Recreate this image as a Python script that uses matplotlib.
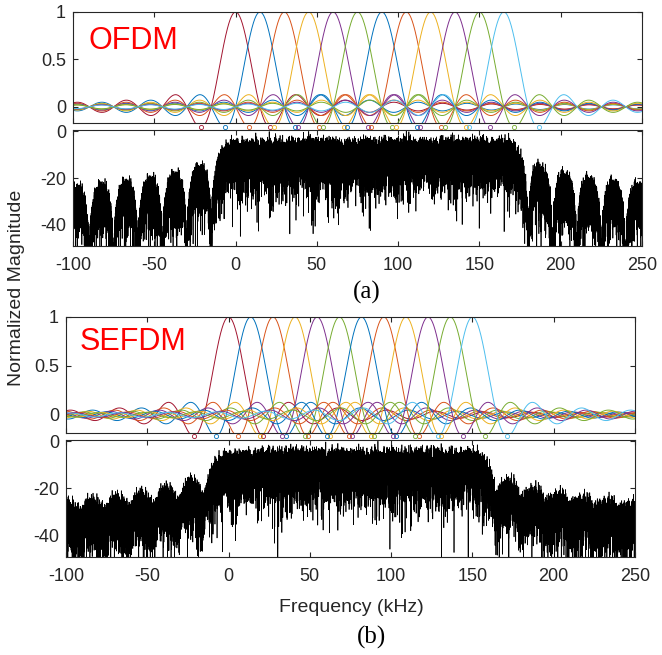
import numpy as np
import matplotlib.pyplot as plt

# subcarrier centre frequencies (kHz)
ofdm_fc = [0, 15, 30, 45, 60, 75, 90, 105, 120, 135, 150, 165]
sefdm_fc = [0, 13.6, 27.3, 40.9, 54.5, 68.2, 81.8, 95.5, 109.1, 122.7, 136.4, 150]
sym_rate = 15  # kHz (1/T)

# MATLAB default colours, in the order the peaks appear
peak_colors = ['#A2142F', '#0072BD', '#D95319', '#EDB120', '#7E2F8E', '#77AC30',
               '#0072BD', '#D95319', '#EDB120', '#7E2F8E', '#77AC30', '#4DBEEE']

xticks = [-100, -50, 0, 50, 100, 150, 200, 250]
sinc_yticks = [0, 0.5, 1]
spec_yticks = [-40, -20, 0]
names = ['OFDM', 'SEFDM']
tags = ['(a)', '(b)']

# transmitted test pattern: PRBS-15 bits -> QPSK, n_sym symbols
n_sym = 1024
samp_per_sym = 64

plt.rcParams['font.family'] = 'Liberation Sans'
plt.rcParams['axes.unicode_minus'] = False
axcol = '#262626'


def prbs15(n):
    reg = 0x7FFF
    out = np.empty(n, dtype=int)
    for i in range(n):
        bit = ((reg >> 14) ^ (reg >> 13)) & 1
        reg = ((reg << 1) | bit) & 0x7FFF
        out[i] = bit
    return out


def spectrum(fc):
    fc = np.asarray(fc)
    bits = prbs15(2 * n_sym * len(fc)).reshape(n_sym, len(fc), 2)
    d = ((1 - 2 * bits[..., 0]) + 1j * (1 - 2 * bits[..., 1])) / np.sqrt(2)
    fs = sym_rate * samp_per_sym
    n = np.arange(samp_per_sym)
    carriers = np.exp(2j * np.pi * np.outer(fc, n) / fs)
    sig = (d @ carriers).ravel()
    X = np.fft.fftshift(np.fft.fft(sig))
    f = np.fft.fftshift(np.fft.fftfreq(sig.size, 1 / fs))
    p = 20 * np.log10(np.abs(X) + 1e-12)
    keep = (f >= -100) & (f <= 250)
    return f[keep], p[keep] - p[keep].max()


def style(ax):
    for s in ax.spines.values():
        s.set_color(axcol)
        s.set_linewidth(0.8)
    ax.tick_params(direction='in', top=True, right=True, length=3.5,
                   width=0.8, color=axcol, labelcolor=axcol, labelsize=13)
    ax.tick_params(axis='y', pad=5)
    ax.tick_params(axis='x', pad=8)
    ax.set_xlim(-100, 250)
    ax.set_xticks(xticks)


W, H = 662, 655
fig = plt.figure(figsize=(W / 100, H / 100), dpi=100)

# [left, top, right, bottom] in pixels for sinc and spectrum panels
boxes = [((73, 12, 642, 123), (73, 130, 642, 246)),
         ((66, 317, 635, 433), (66, 440, 635, 557))]
sinc_ylim = [(-0.17, 1.0), (-0.185, 1.0)]
text_pos = [(89, 49), (80, 350)]
tag_pos = [(367, 292), (371, 637)]

f = np.linspace(-100, 250, 3501)
for i, fcs in enumerate([ofdm_fc, sefdm_fc]):
    (l1, t1, r1, b1), (l2, t2, r2, b2) = boxes[i]
    ax1 = fig.add_axes([l1 / W, 1 - b1 / H, (r1 - l1) / W, (b1 - t1) / H])
    ax2 = fig.add_axes([l2 / W, 1 - b2 / H, (r2 - l2) / W, (b2 - t2) / H])

    xmin = 1.4303 * sym_rate  # offset of the first negative side lobe
    for fc, c in zip(fcs, peak_colors):
        ax1.plot(f, np.sinc((f - fc) / sym_rate), color=c, lw=0.7)
        ax1.plot([fc - xmin, fc + xmin], [-0.2172, -0.2172], 'o', ms=3,
                 mfc='none', mec=c, mew=0.6, clip_on=False)
    style(ax1)
    ax1.set_ylim(*sinc_ylim[i])
    ax1.set_yticks(sinc_yticks)
    ax1.set_yticklabels(['0', '0.5', '1'])
    ax1.set_xticklabels([])
    tx, ty = text_pos[i]
    ax1.text((tx - l1) / (r1 - l1), (b1 - ty) / (b1 - t1), names[i], color='red',
             fontsize=22, transform=ax1.transAxes, va='baseline', ha='left')

    fx, px = spectrum(fcs)
    ax2.plot(fx, px, color='black', lw=0.5)
    style(ax2)
    ax2.set_ylim(-49, 0.5)
    ax2.set_yticks(spec_yticks)

    fig.text(tag_pos[i][0] / W, 1 - tag_pos[i][1] / H, tags[i],
             family='Liberation Serif', fontsize=18, ha='center', va='center')

fig.text(351 / W, 1 - 607 / H, 'Frequency (kHz)', fontsize=14, color=axcol,
         ha='center', va='center')
fig.text(17 / W, 1 - 288 / H, 'Normalized Magnitude', fontsize=14, color=axcol,
         rotation=90, ha='center', va='center')

fig.savefig('out.png', dpi=100)
